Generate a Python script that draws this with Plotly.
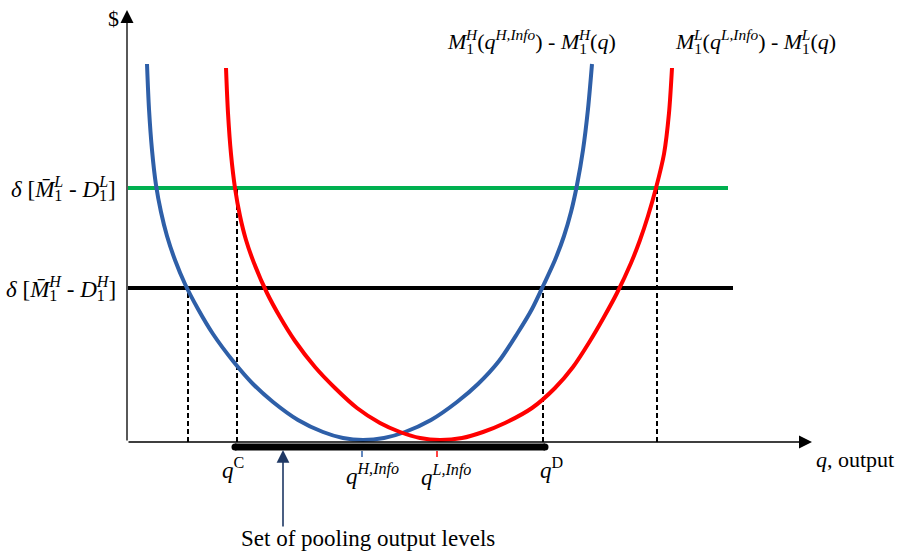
import plotly.graph_objects as go

# ---------------- data (q = output, v = $) ----------------
blue_q = [20, 22, 25, 29, 34, 40, 48, 58, 71, 86, 106, 126, 146, 171, 196, 216, 236,
          257, 278, 304, 330, 351, 372, 390, 405, 417, 428, 437, 444, 450, 456, 461, 465]
blue_v = [378, 333, 292, 257, 230, 206, 182, 158, 133, 108, 81, 58, 40, 22, 10, 4, 2,
          4, 10, 22, 40, 58, 81, 108, 133, 158, 182, 206, 230, 257, 292, 333, 378]

red_q = [99, 101, 104, 108, 113, 119, 127, 140, 153, 168, 188, 208, 230, 253, 273, 293, 313,
         335, 356, 378, 405, 428, 446, 463, 477, 490, 504, 513, 521, 529, 537, 542, 545]
red_v = [374, 329, 288, 254, 226, 202, 179, 149, 125, 101, 75, 54, 34, 19, 10, 4, 2,
         4, 10, 19, 34, 54, 75, 101, 125, 149, 179, 202, 226, 254, 288, 329, 374]

green_level = 254          # delta[M1L - D1L]
black_level = 154          # delta[M1H - D1H]
green_span = [1, 601]
black_span = [1, 606]

dash_q = [61, 110, 416, 530]
dash_top = [154, 254, 154, 254]

pool_q = [108, 418]        # q^C .. q^D
q_H_info = 235
q_L_info = 310

x_axis_end = 685
y_axis_end = 432

BLUE = "#2E5FA8"
RED = "#FF0000"
GREEN = "#00B050"
NAVY = "#1F3864"
SERIF = "Liberation Serif, Times New Roman, serif"

fig = go.Figure()

# horizontal levels
fig.add_trace(go.Scatter(x=green_span, y=[green_level, green_level], mode="lines",
                         line=dict(color=GREEN, width=4), hoverinfo="skip"))
fig.add_trace(go.Scatter(x=black_span, y=[black_level, black_level], mode="lines",
                         line=dict(color="black", width=4), hoverinfo="skip"))

# dashed verticals
dx, dy = [], []
for q, t in zip(dash_q, dash_top):
    dx += [q, q, None]
    dy += [0, t, None]
fig.add_trace(go.Scatter(x=dx, y=dy, mode="lines",
                         line=dict(color="black", width=2, dash="5px,3px"), hoverinfo="skip"))

# curves
fig.add_trace(go.Scatter(x=blue_q, y=blue_v, mode="lines",
                         line=dict(color=BLUE, width=4, shape="spline", smoothing=0.8), hoverinfo="skip"))
fig.add_trace(go.Scatter(x=red_q, y=red_v, mode="lines",
                         line=dict(color=RED, width=4, shape="spline", smoothing=0.8), hoverinfo="skip"))

# pooling bar (rounded ends)
fig.add_trace(go.Scatter(x=pool_q, y=[-5, -5], mode="lines+markers",
                         line=dict(color="black", width=7),
                         marker=dict(color="black", size=7, line=dict(width=0)),
                         hoverinfo="skip"))

# info ticks
fig.add_trace(go.Scatter(x=[q_H_info, q_H_info], y=[-9, -15], mode="lines",
                         line=dict(color=BLUE, width=1.5), hoverinfo="skip"))
fig.add_trace(go.Scatter(x=[q_L_info, q_L_info], y=[-9, -15], mode="lines",
                         line=dict(color=RED, width=1.5), hoverinfo="skip"))

ann = []
# axes with arrowheads
ann.append(dict(x=0, y=y_axis_end, ax=0, ay=0, xref="x", yref="y", axref="x", ayref="y",
                text="", showarrow=True, arrowhead=2, arrowsize=2, arrowwidth=1.3,
                arrowcolor="black", standoff=0))
ann.append(dict(x=x_axis_end, y=0, ax=0, ay=0, xref="x", yref="y", axref="x", ayref="y",
                text="", showarrow=True, arrowhead=2, arrowsize=2, arrowwidth=1.3,
                arrowcolor="black", standoff=0))
# pooling arrow
ann.append(dict(x=156, y=-8, ax=156, ay=-86, xref="x", yref="y", axref="x", ayref="y",
                text="", showarrow=True, arrowhead=2, arrowsize=1.6, arrowwidth=1.6,
                arrowcolor=NAVY, standoff=0))


def stack(sub, sup, back):
    return ('<sub><span style="letter-spacing:-%dpx">%s</span></sub><sup><i>%s</i></sup>' % (back, sub, sup))


def txt(x, y, text, size, xanchor="center", yanchor="middle"):
    ann.append(dict(x=x, y=y, xref="x", yref="y", text=text, showarrow=False,
                    xanchor=xanchor, yanchor=yanchor,
                    font=dict(family=SERIF, size=size, color="black")))


txt(-14, 424, "$", 22)
txt(-9, green_level, "<i>δ</i> [<i>M\u0304</i>" + stack("1", "L", 8) + " - <i>D</i>" + stack("1", "L", 8) + "]", 23, xanchor="right")
txt(-9, black_level, "<i>δ</i> [<i>M\u0304</i>" + stack("1", "H", 8) + " - <i>D</i>" + stack("1", "H", 8) + "]", 23, xanchor="right")

txt(318, 402, "<i>M</i>" + stack("1", "H", 8) + "(<i>q</i><sup><i>H,Info</i></sup>) - <i>M</i>" + stack("1", "H", 8) + "(<i>q</i>)", 22, xanchor="left")
txt(546, 402, "<i>M</i>" + stack("1", "L", 8) + "(<i>q</i><sup><i>L,Info</i></sup>) - <i>M</i>" + stack("1", "L", 8) + "(<i>q</i>)", 22, xanchor="left")

txt(106, -26, "<i>q</i><sup>C</sup>", 23)
txt(245, -32, "<i>q</i><sup><i>H,Info</i></sup>", 23)
txt(319, -33, "<i>q</i><sup><i>L,Info</i></sup>", 23)
txt(424, -26, "<i>q</i><sup>D</sup>", 23)
txt(687, -17, "<i>q</i>, output", 22, xanchor="left")
txt(241, -96, "Set of pooling output levels", 23)

fig.update_layout(
    width=897, height=554,
    margin=dict(l=0, r=0, t=0, b=0),
    paper_bgcolor="white", plot_bgcolor="white",
    showlegend=False,
    xaxis=dict(range=[-127, 770], visible=False, fixedrange=True),
    yaxis=dict(range=[-112, 442], visible=False, fixedrange=True),
    annotations=ann,
)

fig.write_html("out.html", config={"displayModeBar": False},
               post_script="document.body.style.margin='0px';")
